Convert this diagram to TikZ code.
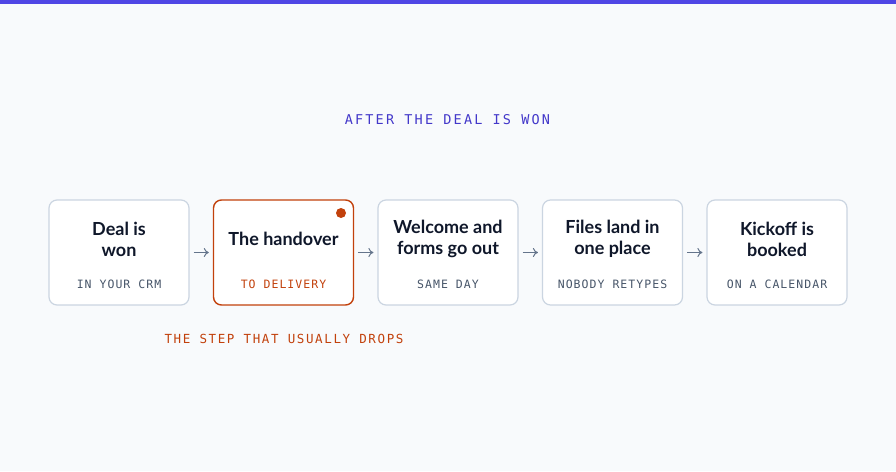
\documentclass[tikz,border=0pt]{standalone}
\usepackage{fontspec}
\setmainfont{Lato}
\newfontfamily\titlemono[LetterSpace=16]{DejaVu Sans Mono}
\newfontfamily\submono[LetterSpace=9]{DejaVu Sans Mono}
\newfontfamily\dropmono[LetterSpace=13]{DejaVu Sans Mono}
\definecolor{bg}{HTML}{F8FAFC}
\definecolor{topbar}{HTML}{4F46E5}
\definecolor{titlecol}{HTML}{4338CA}
\definecolor{boxline}{HTML}{CBD5E1}
\definecolor{hot}{HTML}{C2410C}
\definecolor{ink}{HTML}{0F172A}
\definecolor{subcol}{HTML}{475569}
\definecolor{arrowcol}{HTML}{64748B}
\usetikzlibrary{arrows.meta}
\tikzset{
  stepbox/.style={draw=boxline, line width=1.2pt, fill=white, rounded corners=8pt,
    minimum width=140pt, minimum height=105pt, inner sep=0pt},
  hotbox/.style={stepbox, draw=hot, line width=1.4pt},
  steptext/.style={font=\fontsize{18}{21}\selectfont\bfseries, text=ink, align=center},
  subtext/.style={font=\fontsize{11.5}{13}\submono, text=subcol},
  flow/.style={draw=arrowcol, line width=1pt, -{To[length=5pt,width=9pt]}},
}
\begin{document}
\begin{tikzpicture}[x=1pt,y=-1pt]
\fill[bg] (0,0) rectangle (896,471);
\useasboundingbox (0,0) rectangle (896,471);
\fill[topbar] (0,0) rectangle (896,4);
\node[font=\fontsize{13.5}{15}\titlemono, text=titlecol] (title) at (447.5,120) {AFTER THE DEAL IS WON};

\node[stepbox] (b1) at (119,252.5) {};
\node[hotbox] (b2) at (283.5,252.5) {};
\node[stepbox] (b3) at (448,252.5) {};
\node[stepbox] (b4) at (612.5,252.5) {};
\node[stepbox] (b5) at (777,252.5) {};

\node[steptext] (t1) at (119,239) {Deal is\\won};
\node[steptext] (t2) at (283.5,239) {The handover};
\node[steptext] (t3) at (448,239) {Welcome and\\forms go out};
\node[steptext] (t4) at (612.5,239) {Files land in\\one place};
\node[steptext] (t5) at (777,239) {Kickoff is\\booked};

\node[subtext] (s1) at (119,284) {IN YOUR CRM};
\node[subtext, text=hot] (s2) at (283.5,284) {TO DELIVERY};
\node[subtext] (s3) at (448,284) {SAME DAY};
\node[subtext] (s4) at (612.5,284) {NOBODY RETYPES};
\node[subtext] (s5) at (777,284) {ON A CALENDAR};

\node[circle, fill=hot, minimum size=10pt, inner sep=0pt] (dot) at (341,213) {};

\draw[flow] ([xshift=4pt]b1.east) -- ([xshift=-4pt]b2.west);
\draw[flow] ([xshift=4pt]b2.east) -- ([xshift=-4pt]b3.west);
\draw[flow] ([xshift=4pt]b3.east) -- ([xshift=-4pt]b4.west);
\draw[flow] ([xshift=4pt]b4.east) -- ([xshift=-4pt]b5.west);

\node[font=\fontsize{12.5}{14}\dropmono, text=hot] (drop) at (284,339) {THE STEP THAT USUALLY DROPS};
\end{tikzpicture}
\end{document}
